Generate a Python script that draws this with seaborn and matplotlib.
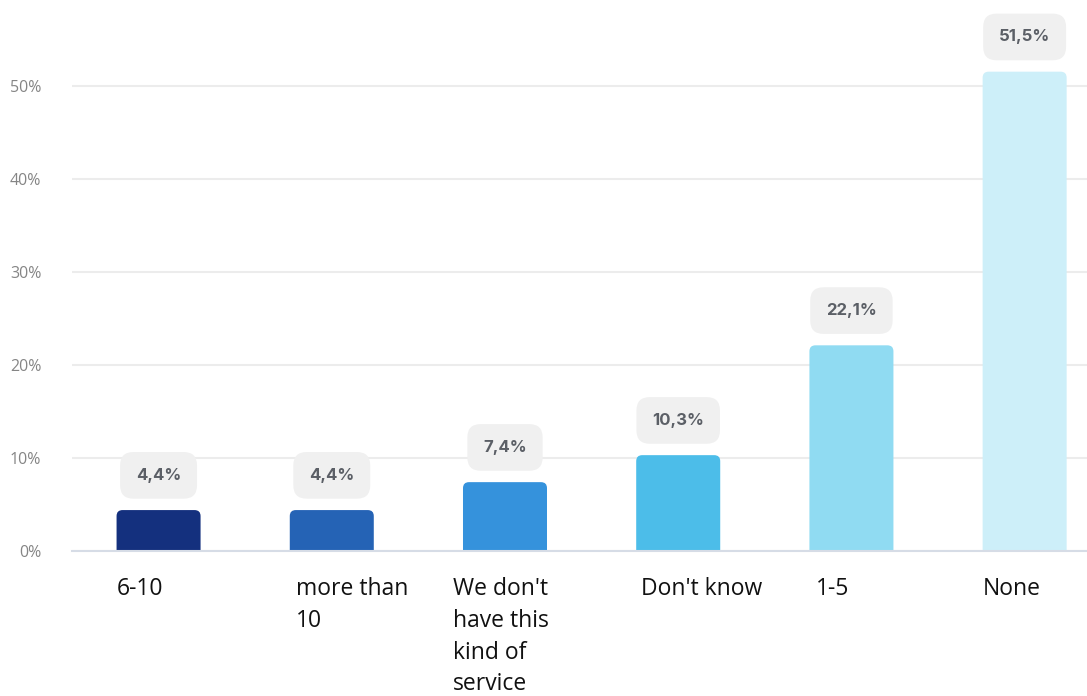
import matplotlib
matplotlib.use("Agg")
import matplotlib.pyplot as plt
import matplotlib.transforms as mtransforms
from matplotlib.patches import FancyBboxPatch
import seaborn as sns
import pandas as pd

# Survey answers and their shares (%)
categories = ["6-10", "more than\n10", "We don't\nhave this\nkind of\nservice",
              "Don't know", "1-5", "None"]
shares = [4.4, 4.4, 7.4, 10.3, 22.1, 51.5]
bar_colors = ["#14307e", "#2563b5", "#3592dc", "#4cbde9", "#90dbf2", "#cdeff9"]
y_ticks = [0, 10, 20, 30, 40, 50]

sns.set_theme(style="white")
plt.rcParams["font.family"] = ["Open Sans", "DejaVu Sans"]

df = pd.DataFrame({"answer": categories, "share": shares})

fig = plt.figure(figsize=(10.87, 6.96), dpi=100)
ax = fig.add_axes([0.0662, 0.2083, 0.9338, 0.7917])

sns.barplot(data=df, x="answer", y="share", hue="answer", palette=bar_colors,
            width=0.485, legend=False, ax=ax, saturation=1)

ax.set_xlim(-0.5, 5.36)
ax.set_ylim(0, 59.2)

# Give the bars softly rounded tops (bottom corners hidden below the axis)
ax_w_px = ax.get_position().width * fig.get_figwidth() * fig.dpi
ax_h_px = ax.get_position().height * fig.get_figheight() * fig.dpi
px_x = (ax.get_xlim()[1] - ax.get_xlim()[0]) / ax_w_px
px_y = (ax.get_ylim()[1] - ax.get_ylim()[0]) / ax_h_px
radius_px = 6
bars = list(ax.patches)
for bar in bars:
    x0, w, h = bar.get_x(), bar.get_width(), bar.get_height()
    rounded = FancyBboxPatch((x0, -radius_px * px_y), w, h + radius_px * px_y,
                             boxstyle=f"round,pad=0,rounding_size={radius_px * px_x}",
                             mutation_aspect=px_y / px_x,
                             fc=bar.get_facecolor(), ec="none", zorder=2)
    ax.add_patch(rounded)
    bar.set_visible(False)

ax.set_yticks(y_ticks)
ax.set_yticklabels([f"{t}%" for t in y_ticks], color="#858585", fontsize=11.5)
ax.yaxis.grid(True, color="#ececec", linewidth=1.5)
ax.set_axisbelow(True)
ax.tick_params(axis="y", length=0, pad=22)
ax.tick_params(axis="x", length=0, pad=19)
for side in ["top", "right", "left"]:
    ax.spines[side].set_visible(False)
ax.spines["bottom"].set_color("#d6dce6")
ax.spines["bottom"].set_linewidth(1.5)
ax.spines["bottom"].set_zorder(3)
ax.set_xlabel("")
ax.set_ylabel("")

# Category labels, left aligned under each bar
label_shift_px = [0, 6, -10, 5, 6, 0]
ax.set_xticks(range(len(categories)))
ax.set_xticklabels(categories, ha="left", va="top", fontsize=16.5,
                   color="#111111", linespacing=1.42,
                   family=["Open Sans", "DejaVu Sans"])
for lab, dx in zip(ax.get_xticklabels(), label_shift_px):
    shift = mtransforms.ScaledTranslation((dx - 42) / 100, 0, fig.dpi_scale_trans)
    lab.set_transform(lab.get_transform() + shift)

# Value badges above bars
for bar, val in zip(bars, shares):
    cx = bar.get_x() + bar.get_width() / 2
    top = bar.get_height()
    ax.annotate(f"{val:.1f}%".replace(".", ","), xy=(cx, top),
                xytext=(0, 25), textcoords="offset points",
                ha="center", va="center", fontsize=12, fontweight="bold",
                color="#5b5f66", family=["Inter", "DejaVu Sans"],
                bbox=dict(boxstyle="round,pad=0.95,rounding_size=0.8",
                          fc="#f0f0f0", ec="none"))

fig.savefig("out.png", dpi=100)
